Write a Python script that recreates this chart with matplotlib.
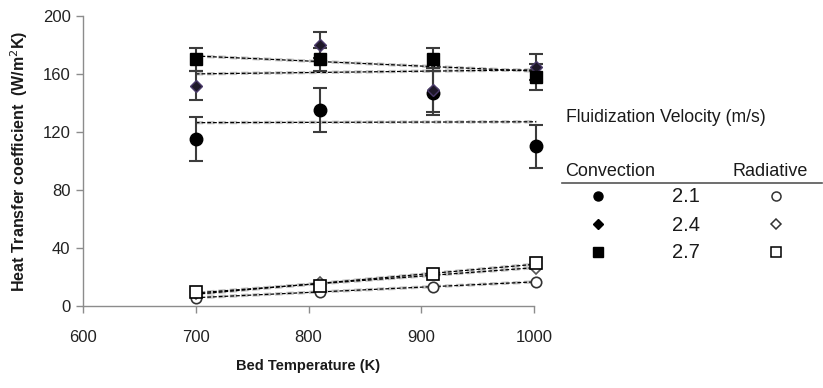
import numpy as np
import matplotlib
matplotlib.use("Agg")
import matplotlib.pyplot as plt
from matplotlib.lines import Line2D

plt.rcParams['font.family'] = ['Liberation Sans', 'DejaVu Sans']

# Bed temperature (K)
temps = [700, 810, 910, 1002]

# Convective heat transfer coefficient (W/m2K) per fluidization velocity
conv_21 = [115, 135, 147, 110]
conv_24 = [152, 180, 149, 165]
conv_27 = [170, 170, 170, 158]
err_21 = [15, 15, 15, 15]
err_24 = [10, 9, 15, 9]
err_27 = [8, 8, 8, 9]

# Radiative heat transfer coefficient (W/m2K)
rad_21 = [5.7, 9.9, 13.1, 16.8]
rad_24 = [8.0, 16.7, 22.0, 25.5]
rad_27 = [9.4, 14.0, 21.8, 30.0]

velocities = ["2.1", "2.4", "2.7"]

fig = plt.figure(figsize=(8.23, 3.88), dpi=100)
ax = fig.add_axes([0.1009, 0.2113, 0.548, 0.7475])

ecol = "#3c3c3c"
diam_face = "#1e1828"
diam_edge = "#4a3a6a"

series_conv = [
    (conv_21, err_21, dict(marker="o", ms=9, mfc="black", mec="black")),
    (conv_24, err_24, dict(marker="D", ms=6, mfc=diam_face, mec=diam_edge)),
    (conv_27, err_27, dict(marker="s", ms=9, mfc="black", mec="black")),
]
series_rad = [
    (rad_21, dict(marker="o", ms=7.5, mfc="white", mec="#333333")),
    (rad_24, dict(marker="D", ms=5.5, mfc="white", mec="#555555")),
    (rad_27, dict(marker="s", ms=8.5, mfc="white", mec="black")),
]

x = np.array(temps, dtype=float)

def trend(vals):
    k, b = np.polyfit(x, vals, 1)
    xs = np.array([x[0], x[-1]])
    # soft grey halo under a dark dashed line
    ax.plot(xs, k * xs + b, color="#c4c4c4", lw=2.4, ls=(0, (2.2, 1.2)),
            zorder=2, clip_on=False)
    ax.plot(xs, k * xs + b, color="black", lw=0.9, ls=(0, (3, 1.6)),
            zorder=3, clip_on=False)

for vals, err, st in series_conv:
    eb = ax.errorbar(temps, vals, yerr=err, fmt="none", ecolor=ecol,
                     elinewidth=1.5, capsize=5, capthick=1.5, zorder=4)
    for art in eb.lines[1] + eb.lines[2]:
        art.set_clip_on(False)
for vals, err, st in series_conv:
    ax.plot(temps, vals, ls="none", zorder=5, clip_on=False, **st)
    trend(vals)

for vals, st in series_rad:
    ax.plot(temps, vals, ls="none", mew=1.2, zorder=5, clip_on=False, **st)
    trend(vals)

ax.set_xlim(600, 1000)
ax.set_ylim(0, 200)
ax.set_xticks([600, 700, 800, 900, 1000])
ax.set_yticks([0, 40, 80, 120, 160, 200])
for s in ["top", "right"]:
    ax.spines[s].set_visible(False)
for s in ["left", "bottom"]:
    ax.spines[s].set_color("#8c8c8c")
    ax.spines[s].set_linewidth(1.0)
ax.tick_params(axis="both", colors="#8c8c8c", labelcolor="#222222",
               labelsize=12, length=5, width=1.0)
ax.tick_params(axis="x", pad=12)
ax.tick_params(axis="y", pad=4)

ax.set_xlabel("Bed Temperature (K)", fontsize=10.5, fontweight="bold",
              color="#1a1a1a", labelpad=10)
ax.set_ylabel("Heat Transfer coefficient  (W/m$^2$K)", fontsize=11.5,
              fontweight="bold", color="#1a1a1a", labelpad=9)

# Legend laid out as a small table to the right of the plot
def fx(px):
    return px / 823.0

def fy(py):
    return 1 - py / 388.0

fig.text(fx(566), fy(117), "Fluidization Velocity (m/s)", fontsize=12.7,
         color="#1a1a1a", va="center", ha="left")
fig.text(fx(565), fy(171), "Convection", fontsize=13, color="#1a1a1a",
         va="center", ha="left")
fig.text(fx(808), fy(171), "Radiative", fontsize=13, color="#1a1a1a",
         va="center", ha="right")
fig.add_artist(Line2D([fx(562), fx(822)], [fy(183), fy(183)],
                      color="#555555", lw=1.2, transform=fig.transFigure))

rows = [196, 224, 252]
conv_leg = [dict(marker="o", ms=6.5, mfc="black", mec="black"),
            dict(marker="D", ms=5, mfc="black", mec="black"),
            dict(marker="s", ms=7, mfc="black", mec="black")]
rad_leg = [dict(marker="o", ms=6.5, mfc="white", mec="#333333"),
           dict(marker="D", ms=5, mfc="white", mec="#333333"),
           dict(marker="s", ms=7, mfc="white", mec="black")]
for yy, lab, cm, rm in zip(rows, velocities, conv_leg, rad_leg):
    fig.add_artist(Line2D([fx(598)], [fy(yy)], ls="none",
                          transform=fig.transFigure, **cm))
    fig.text(fx(686), fy(yy + 1), lab, fontsize=14.5, color="#1a1a1a",
             va="center", ha="center")
    fig.add_artist(Line2D([fx(776)], [fy(yy)], ls="none", mew=1.1,
                          transform=fig.transFigure, **rm))

fig.savefig("out.png", dpi=100)
